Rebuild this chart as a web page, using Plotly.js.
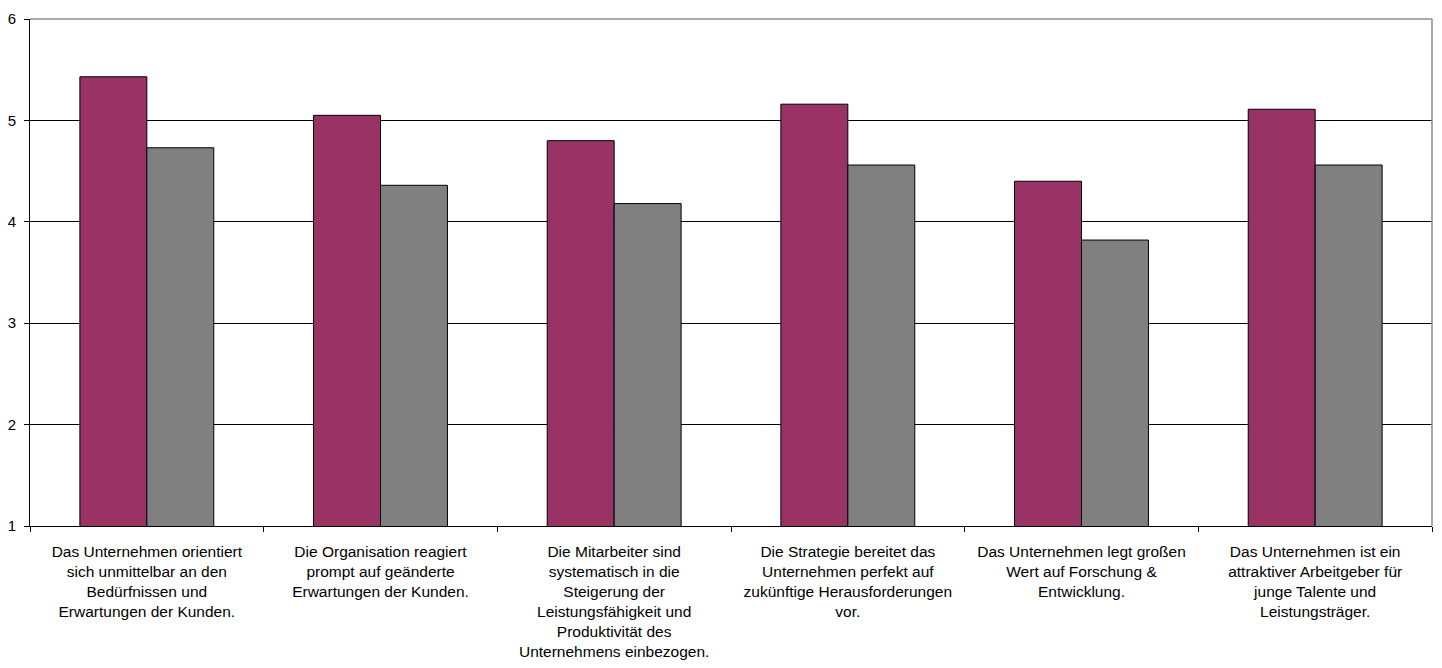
<!DOCTYPE html>
<html>
<head>
<meta charset="utf-8">
<script src="https://cdn.plot.ly/plotly-3.0.1.min.js"></script>
<style>
  html, body { margin: 0; padding: 0; background: #ffffff; }
  #chart { width: 1442px; height: 668px; }
</style>
</head>
<body>
<div id="chart"></div>
<script>
// Survey statements (x categories), wrapped as they appear under the axis
const categories = [
  "Das Unternehmen orientiert<br>sich unmittelbar an den<br>Bedürfnissen und<br>Erwartungen der Kunden.",
  "Die Organisation reagiert<br>prompt auf geänderte<br>Erwartungen der Kunden.",
  "Die Mitarbeiter sind<br>systematisch in die<br>Steigerung der<br>Leistungsfähigkeit und<br>Produktivität des<br>Unternehmens einbezogen.",
  "Die Strategie bereitet das<br>Unternehmen perfekt auf<br>zukünftige Herausforderungen<br>vor.",
  "Das Unternehmen legt großen<br>Wert auf Forschung &<br>Entwicklung.",
  "Das Unternehmen ist ein<br>attraktiver Arbeitgeber für<br>junge Talente und<br>Leistungsträger."
];

// Mean ratings per statement, two groups
const seriesA = [5.43, 5.05, 4.80, 5.16, 4.40, 5.11];
const seriesB = [4.73, 4.36, 4.18, 4.56, 3.82, 4.56];

const yTicks = [1, 2, 3, 4, 5, 6];

const xFont = { family: "Liberation Sans, Arial, sans-serif", size: 15.5, color: "#000000" };
const yFont = { family: "Liberation Sans, Arial, sans-serif", size: 15, color: "#000000" };

const traces = [
  {
    type: "bar",
    x: categories,
    y: seriesA,
    marker: { color: "#993366", line: { color: "#000000", width: 1 } },
    hoverinfo: "y"
  },
  {
    type: "bar",
    x: categories,
    y: seriesB,
    marker: { color: "#808080", line: { color: "#000000", width: 1 } },
    hoverinfo: "y"
  }
];

const layout = {
  width: 1442,
  height: 668,
  margin: { l: 30, r: 10, t: 19, b: 142 },
  paper_bgcolor: "#ffffff",
  plot_bgcolor: "#ffffff",
  font: yFont,
  showlegend: false,
  barmode: "group",
  bargap: 0.427,
  bargroupgap: 0,
  xaxis: {
    type: "category",
    showline: true,
    linecolor: "#000000",
    linewidth: 1,
    ticks: "outside",
    tickson: "boundaries",
    ticklen: 5,
    tickcolor: "#000000",
    showgrid: false,
    tickfont: xFont,
    tickangle: 0,
    ticklabelstandoff: 11,
    fixedrange: true
  },
  yaxis: {
    range: [1, 6],
    tickvals: yTicks,
    ticktext: yTicks.map(String),
    showline: true,
    linecolor: "#000000",
    linewidth: 1,
    ticks: "outside",
    ticklen: 5,
    tickcolor: "#000000",
    showgrid: true,
    gridcolor: "#000000",
    gridwidth: 1,
    zeroline: false,
    tickfont: yFont,
    ticklabelstandoff: 5,
    fixedrange: true
  },
  shapes: [
    { type: "line", xref: "paper", yref: "paper", x0: 0, x1: 1, y0: 1, y1: 1,
      line: { color: "#8c8c8c", width: 1.5 }, layer: "above" },
    { type: "line", xref: "paper", yref: "paper", x0: 1, x1: 1, y0: 0, y1: 1,
      line: { color: "#8c8c8c", width: 1.5 }, layer: "above" }
  ]
};

Plotly.newPlot("chart", traces, layout, { displayModeBar: false, staticPlot: true });
</script>
</body>
</html>
